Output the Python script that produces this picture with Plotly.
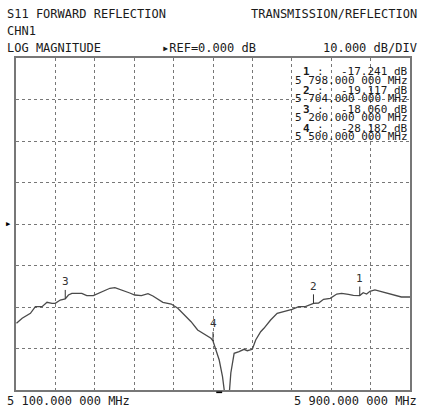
import plotly.graph_objects as go

# Trace data (frequency in MHz, magnitude in dB)
freq_mhz = [5101, 5112.5, 5129.3, 5139.3, 5152.9, 5163, 5173, 5179.7, 5189.8, 5200,
            5206.5, 5213.4, 5233.6, 5243.7, 5257, 5267, 5280.6, 5290.7, 5300.8, 5317.5,
            5331, 5341.1, 5354.6, 5368, 5378, 5398.2, 5415.2, 5428.5, 5442, 5455.5,
            5468.8, 5485.8, 5495.9, 5500, 5502.5, 5512.6, 5519.3, 5524.1, 5528.7, 5532.8,
            5536.2, 5542.9, 5552.9, 5563, 5569.7, 5579.8, 5586.7, 5596.8, 5603.4, 5617,
            5630.3, 5643.8, 5660.5, 5674, 5687.5, 5704, 5714.4, 5724.5, 5738, 5751.3,
            5761.2, 5774.9, 5785, 5798, 5805, 5811.9, 5818.7, 5828.8, 5842.1, 5855.6,
            5869.2, 5882.5, 5900]
mag_db = [-23.93, -22.72, -21.52, -19.93, -19.93, -18.87, -19.11, -19.11, -18.31, -18.06,
          -17.11, -16.70, -16.70, -17.28, -17.28, -16.70, -15.90, -15.49, -15.35, -15.98,
          -16.63, -17.11, -17.28, -16.80, -17.35, -18.87, -19.28, -20.31, -21.93, -23.54,
          -25.54, -26.75, -27.54, -28.18, -29.16, -32.77, -36.80, -41.2, -42.4, -41.2,
          -35.90, -31.16, -30.77, -30.19, -30.53, -30.19, -27.95, -25.95, -25.13, -23.13,
          -21.52, -21.13, -20.55, -19.93, -19.93, -19.12, -19.04, -18.14, -17.90, -16.87,
          -16.70, -16.94, -17.18, -17.24, -16.55, -16.87, -16.22, -15.90, -16.31, -16.70,
          -17.18, -17.59, -17.59]

# Markers
marker_ids = ["1", "2", "3", "4"]
marker_freq = [5798.0, 5704.0, 5200.0, 5500.0]
marker_db = [-17.241, -19.117, -18.060, -28.182]

# Axis settings
f_start, f_stop = 5100.0, 5900.0
ref_db, db_per_div = 0.0, 10.0
start_label = "5 100.000 000 MHz"
stop_label = "5 900.000 000 MHz"
clip_freq = 5512.6  # position of the below-screen indicator

MONO = "DejaVu Sans Mono"
TXT = "#1a1a1a"

fig = go.Figure()
fig.add_trace(go.Scatter(x=freq_mhz, y=mag_db, mode="lines",
                         line=dict(color="#4a4a4a", width=1.3), hoverinfo="skip"))

annotations = []
# marker ticks and labels
for mid, mf, md in zip(marker_ids, marker_freq, marker_db):
    annotations.append(dict(x=mf, y=md, xref="x", yref="y", text=mid, showarrow=True,
                            arrowhead=0, arrowwidth=1, arrowcolor="#333", ax=0, ay=-17,
                            standoff=0, font=dict(family=MONO, size=11, color="#333")))

def txt(x, y, s, anchor="left", size=12, bold=False):
    annotations.append(dict(x=x, y=y, xref="paper", yref="paper",
                            text=("<b>%s</b>" % s) if bold else s,
                            showarrow=False, xanchor=anchor, yanchor="middle",
                            font=dict(family=MONO, size=size, color=TXT)))

W, H = 424, 407
ml, mr, mt, mb = 15.5, 12, 58, 17
pw, ph = W - ml - mr, H - mt - mb

def px(xp):
    return (xp - ml) / pw

def py(yp):
    return (H - mb - yp) / ph

txt(px(4), py(13.5), "S11 FORWARD REFLECTION")
txt(px(421), py(13.5), "TRANSMISSION/REFLECTION", anchor="right")
txt(px(4), py(31), "CHN1")
txt(px(4), py(48), "LOG MAGNITUDE")
txt(px(160), py(48), "▸REF=%.3f dB" % ref_db)
txt(px(421), py(48), "%.3f dB/DIV" % db_per_div, anchor="right")
txt(px(4), py(400.5), start_label)
txt(px(421), py(400.5), stop_label, anchor="right")

# marker readout block
y0 = 72
for i, (mid, mf, md) in enumerate(zip(marker_ids, marker_freq, marker_db)):
    yy = y0 + i * 18.7
    txt(px(302), py(yy), mid, size=11, bold=True)
    txt(px(316), py(yy), ":", size=11)
    txt(px(412), py(yy), "%.3f dB" % md, anchor="right", size=11)
    fs = "%.3f" % mf
    ghz, rest = fs[0], fs[1:]
    txt(px(412), py(yy + 8), "%s %s 000 MHz" % (ghz, rest), anchor="right", size=11)

# reference arrow at left
annotations.append(dict(x=0, y=ref_db, xref="paper", yref="y", text="▶", showarrow=False,
                        xanchor="right", xshift=-3, font=dict(family=MONO, size=7, color="#000")))

fig.update_layout(
    width=W, height=H,
    margin=dict(l=ml, r=mr, t=mt, b=mb, pad=0),
    paper_bgcolor="white", plot_bgcolor="white",
    showlegend=False,
    annotations=annotations,
    xaxis=dict(range=[f_start, f_stop], dtick=(f_stop - f_start) / 10, tick0=f_start,
               showticklabels=False, ticks="", showgrid=True, gridcolor="#777",
               griddash="dot", gridwidth=1, zeroline=False,
               showline=True, mirror=True, linecolor="#777", linewidth=1.5, fixedrange=True),
    yaxis=dict(range=[ref_db - 4 * db_per_div, ref_db + 4 * db_per_div], dtick=db_per_div,
               tick0=ref_db, showticklabels=False, ticks="", showgrid=True, gridcolor="#777",
               griddash="dot", gridwidth=1, zeroline=False,
               showline=True, mirror=True, linecolor="#777", linewidth=1.5, fixedrange=True),
    shapes=[dict(type="line", xref="x", yref="paper", x0=clip_freq - 6, x1=clip_freq + 6,
                 y0=-0.007, y1=-0.007, line=dict(color="#000", width=1.6))],
)

fig.write_html("out.html", config={"displayModeBar": False},
               post_script="document.body.style.margin='0';document.body.style.padding='0';")
